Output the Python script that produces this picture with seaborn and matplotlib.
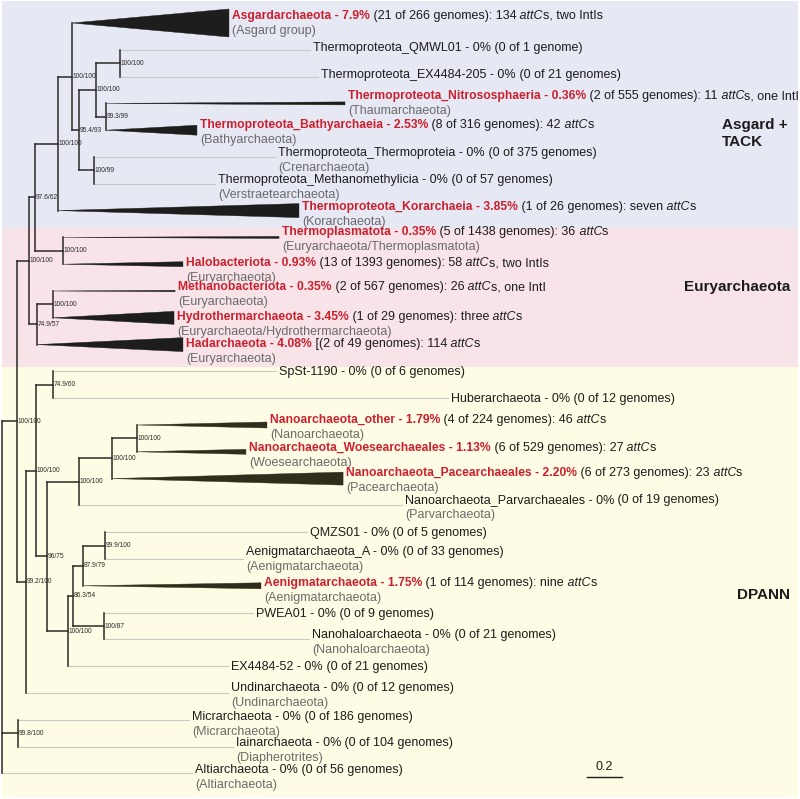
import matplotlib
matplotlib.use('Agg')
import numpy as np
import pandas as pd
import matplotlib.pyplot as plt
import seaborn as sns

plt.rcParams['font.family'] = ['Liberation Sans', 'DejaVu Sans']

# ---- leaves, top to bottom ----
leaf_head = [
    'Asgardarchaeota - 7.9%', 'Thermoproteota_QMWL01 - 0%', 'Thermoproteota_EX4484-205 - 0%',
    'Thermoproteota_Nitrososphaeria - 0.36%', 'Thermoproteota_Bathyarchaeia - 2.53%',
    'Thermoproteota_Thermoproteia - 0%', 'Thermoproteota_Methanomethylicia - 0%',
    'Thermoproteota_Korarchaeia - 3.85%', 'Thermoplasmatota - 0.35%', 'Halobacteriota - 0.93%',
    'Methanobacteriota - 0.35%', 'Hydrothermarchaeota - 3.45%', 'Hadarchaeota - 4.08%',
    'SpSt-1190 - 0%', 'Huberarchaeota - 0%', 'Nanoarchaeota_other - 1.79%',
    'Nanoarchaeota_Woesearchaeales - 1.13%', 'Nanoarchaeota_Pacearchaeales - 2.20%',
    'Nanoarchaeota_Parvarchaeales - 0%', 'QMZS01 - 0%', 'Aenigmatarchaeota_A - 0%',
    'Aenigmatarchaeota - 1.75%', 'PWEA01 - 0%', 'Nanohaloarchaeota - 0%', 'EX4484-52 - 0%',
    'Undinarchaeota - 0%', 'Micrarchaeota - 0%', 'Iainarchaeota - 0%', 'Altiarchaeota - 0%',
]
leaf_tail = [
    ' (21 of 266 genomes): 134 *attC*s, two IntIs', ' (0 of 1 genome)', ' (0 of 21 genomes)',
    ' (2 of 555 genomes): 11 *attC*s, one IntI', ' (8 of 316 genomes): 42 *attC*s',
    ' (0 of 375 genomes)', ' (0 of 57 genomes)', ' (1 of 26 genomes): seven *attC*s',
    ' (5 of 1438 genomes): 36 *attC*s', ' (13 of 1393 genomes): 58 *attC*s, two IntIs',
    ' (2 of 567 genomes): 26 *attC*s, one IntI', ' (1 of 29 genomes): three *attC*s',
    ' [(2 of 49 genomes): 114 *attC*s', ' (0 of 6 genomes)', ' (0 of 12 genomes)',
    ' (4 of 224 genomes): 46 *attC*s', ' (6 of 529 genomes): 27 *attC*s',
    ' (6 of 273 genomes): 23 *attC*s', ' (0 of 19 genomes)', ' (0 of 5 genomes)',
    ' (0 of 33 genomes)', ' (1 of 114 genomes): nine *attC*s', ' (0 of 9 genomes)',
    ' (0 of 21 genomes)', ' (0 of 21 genomes)', ' (0 of 12 genomes)', ' (0 of 186 genomes)',
    ' (0 of 104 genomes)', ' (0 of 56 genomes)',
]
leaf_sub = [
    '(Asgard group)', '', '', '(Thaumarchaeota)', '(Bathyarchaeota)', '(Crenarchaeota)',
    '(Verstraetearchaeota)', '(Korarchaeota)', '(Euryarchaeota/Thermoplasmatota)',
    '(Euryarchaeota)', '(Euryarchaeota)', '(Euryarchaeota/Hydrothermarchaeota)',
    '(Euryarchaeota)', '', '', '(Nanoarchaeota)', '(Woesearchaeota)', '(Pacearchaeota)',
    '(Parvarchaeota)', '', '(Aenigmatarchaeota)', '(Aenigmatarchaeota)', '',
    '(Nanohaloarchaeota)', '', '(Undinarchaeota)', '(Micrarchaeota)', '(Diapherotrites)',
    '(Altiarchaeota)',
]
leaf_parent = ['nH', 'nL', 'nL', 'nM', 'nM', 'nK', 'nK', 'nF', 'nG', 'nG', 'nN', 'nN', 'nE',
               'nP', 'nP', 'nU', 'nU', 'nT', 'nR', 'nY', 'nY', 'nW', 'nX', 'nX', 'nS', 'nC',
               'nMI', 'nMI', 'root']
# tip depth (substitutions / site)
leaf_tip = [1.297, 1.760, 1.806, 1.960, 1.114, 1.560, 1.217, 1.697, 1.583, 1.034, 0.989,
            0.983, 1.034, 1.566, 2.549, 1.514, 1.394, 1.949, 2.286, 1.743, 1.377, 1.480,
            1.434, 1.754, 1.291, 1.291, 1.069, 1.320, 1.086]
# leaves with attCs found are highlighted in red
leaf_hit = [p.split(' - ')[-1] != '0%' for p in leaf_head]

# ---- internal nodes ----
node_name = ['root', 'nA', 'nMI', 'nB', 'nC', 'nD', 'nE', 'nF', 'nG', 'nH', 'nI', 'nJ', 'nK',
             'nL', 'nM', 'nN', 'nO', 'nP', 'nQ', 'nR', 'nT', 'nU', 'nS', 'nV', 'nW', 'nY', 'nX']
node_parent = [None, 'root', 'root', 'nA', 'nA', 'nB', 'nB', 'nD', 'nD', 'nF', 'nH', 'nI',
               'nI', 'nJ', 'nJ', 'nE', 'nC', 'nO', 'nO', 'nQ', 'nR', 'nT', 'nQ', 'nS', 'nV',
               'nW', 'nV']
node_depth = [0.0, 0.086, 0.091, 0.154, 0.137, 0.189, 0.200, 0.320, 0.349, 0.400, 0.440,
              0.537, 0.526, 0.674, 0.594, 0.291, 0.194, 0.291, 0.257, 0.440, 0.629, 0.771,
              0.377, 0.406, 0.463, 0.589, 0.583]
node_support = ['', '100/100', '99.8/100', '100/100', '99.2/100', '97.6/62', '74.9/57',
                '100/100', '100/100', '100/100', '95.4/93', '100/100', '100/99', '100/100',
                '99.3/99', '100/100', '100/100', '74.9/60', '96/75', '100/100', '100/100',
                '100/100', '100/100', '86.3/54', '87.9/79', '99.9/100', '100/87']

# ---- styling / layout (pixels) ----
wedge_px = [28, 0, 0, 3, 10, 0, 0, 14, 2, 5, 1.5, 13, 14, 0, 0, 6, 5, 13, 0, 0, 0, 6, 0, 0,
            0, 0, 0, 0, 0]
label_dy = [-7, -2, -2, -7, -5, -4, -4, -4, -5, -1, -4, -1, -1, 1, 1, -5, -4, -6, -5, 1, -7,
            -3, 1, -4, 1, -5, -3, -4, -3]
PX_X, PX_Y, Y0 = 175.0, 26.8, 23.0
RED, GREY, INK = '#cc1f2d', '#6a6a6a', '#1c1c1c'
FS, FS_BOLD = 9, 8.7

fig = plt.figure(figsize=(8, 7.99), dpi=100)
ax = fig.add_axes([0, 0, 1, 1])
ax.set_xlim(-2 / PX_X, 798 / PX_X)
ax.set_ylim((799 - Y0) / PX_Y, (0 - Y0) / PX_Y)
ax.axis('off')


def dx(px):
    return px / PX_X


def dy(px):
    return px / PX_Y


def ypx(px):
    return (px - Y0) / PX_Y


# background bands
ax.axhspan(ypx(1), ypx(228), xmin=0.002, xmax=0.998, color='#e6e8f3', lw=0, zorder=0)
ax.axhspan(ypx(228), ypx(367), xmin=0.002, xmax=0.998, color='#f8e4e8', lw=0, zorder=0)
ax.axhspan(ypx(367), ypx(797), xmin=0.002, xmax=0.998, color='#fefce4', lw=0, zorder=0)

# ---- layout of the tree ----
depth = dict(zip(node_name, node_depth))
parent = dict(zip(node_name, node_parent))
ypos = {}
children = {n: [] for n in node_name}
for i, p in enumerate(leaf_parent):
    ypos['L%d' % i] = float(i)
    depth['L%d' % i] = leaf_tip[i]
    children[p].append('L%d' % i)
for n, p in zip(node_name, node_parent):
    if p is not None:
        children[p].append(n)


def place(n):
    if n in ypos:
        return ypos[n]
    ys = [place(c) for c in children[n]]
    ypos[n] = (min(ys) + max(ys)) / 2
    return ypos[n]


place('root')

# edges as segments
rows, grey_rows = [], []
seg = 0
for n in node_name:
    ys = [ypos[c] for c in children[n]]
    rows += [(seg, depth[n], min(ys)), (seg, depth[n], max(ys))]
    seg += 1
    if parent[n] is not None:
        rows += [(seg, depth[parent[n]], ypos[n]), (seg, depth[n], ypos[n])]
        seg += 1
for i in range(len(leaf_head)):
    if wedge_px[i] == 0:
        grey_rows += [(seg, depth[leaf_parent[i]], i), (seg, leaf_tip[i], i)]
        seg += 1

edges = pd.DataFrame(rows, columns=['seg', 'x', 'y'])
grey = pd.DataFrame(grey_rows, columns=['seg', 'x', 'y'])
sns.lineplot(data=grey, x='x', y='y', units='seg', estimator=None, sort=False,
             color='#c9c9c6', lw=0.8, ax=ax, legend=False, zorder=2)
sns.lineplot(data=edges, x='x', y='y', units='seg', estimator=None, sort=False,
             color='#2a2a26', lw=1.1, ax=ax, legend=False, zorder=3)

# collapsed clades as wedges
for i in range(len(leaf_head)):
    if wedge_px[i] > 0:
        x0 = depth[leaf_parent[i]]
        h = dy(wedge_px[i]) / 2
        col = '#1d1d1d' if i < 13 else '#302d1c'
        ax.fill([x0, leaf_tip[i], leaf_tip[i]], [i, i - h, i + h], color=col, lw=0.3,
                ec=col, zorder=3)

# support values
for n, s in zip(node_name, node_support):
    if s:
        ax.text(depth[n] + dx(0.5), ypos[n], s, fontsize=4.8, color='#2a2a2a',
                va='center', ha='left', zorder=4)


def pieces_of(i):
    if leaf_hit[i]:
        out = [(leaf_head[i], dict(color=RED, fontweight='bold', fontsize=FS_BOLD))]
    else:
        out = [(leaf_head[i], dict(color=INK, fontsize=FS))]
    parts = leaf_tail[i].split('*')
    for k, s in enumerate(parts):
        if not s:
            continue
        if s.endswith(' ') and k + 1 < len(parts):
            s = s.rstrip(' ')
            parts[k + 1] = ' ' + parts[k + 1]
        out.append((s, dict(color=INK, fontsize=FS,
                            fontstyle='italic' if k % 2 else 'normal')))
    return out


for i in range(len(leaf_head)):
    x = leaf_tip[i] + dx(3)
    y = i + dy(label_dy[i])
    prev = None
    for txt, kw in pieces_of(i):
        if prev is None:
            prev = ax.text(x, y, txt, va='center', ha='left', zorder=5, **kw)
        else:
            prev = ax.annotate(txt, xy=(1, 0), xycoords=prev, va='bottom',
                               ha='left', zorder=5, **kw)
    if leaf_sub[i]:
        ax.text(x, y + dy(15), leaf_sub[i], fontsize=FS, color=GREY, va='center',
                ha='left', zorder=5)

# group names
ax.text(dx(722 - 2), ypx(125), 'Asgard +', fontsize=11, fontweight='bold', color=INK,
        va='center', ha='left')
ax.text(dx(722 - 2), ypx(142), 'TACK', fontsize=11, fontweight='bold', color=INK,
        va='center', ha='left')
ax.text(dx(790 - 2), ypx(287), 'Euryarchaeota', fontsize=11, fontweight='bold', color=INK,
        va='center', ha='right')
ax.text(dx(790 - 2), ypx(595), 'DPANN', fontsize=11, fontweight='bold', color=INK,
        va='center', ha='right')

# scale bar
sb0 = dx(587 - 2)
ax.plot([sb0, sb0 + 0.2], [ypx(777), ypx(777)], color=INK, lw=1.0)
ax.text(sb0 + 0.1, ypx(767), '0.2', fontsize=FS, color=INK, va='center', ha='center')

fig.savefig('out.png', dpi=100)
